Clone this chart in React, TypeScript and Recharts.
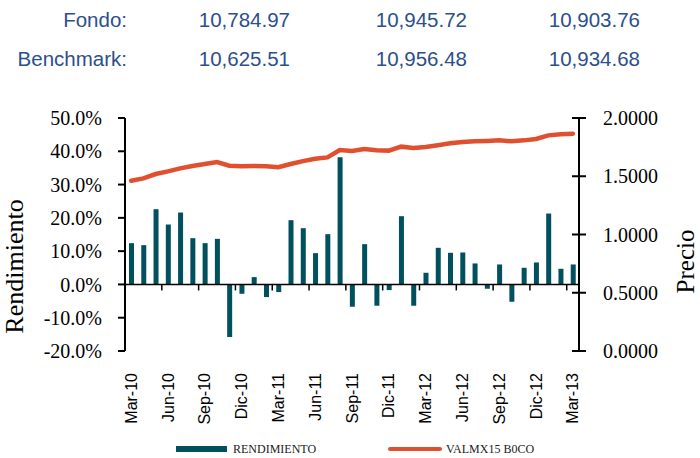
import React from 'react';
import { ComposedChart, Bar, Line, XAxis, YAxis, ReferenceLine } from 'recharts';

const months = [
  'Mar-10', 'Abr-10', 'May-10', 'Jun-10', 'Jul-10', 'Ago-10', 'Sep-10', 'Oct-10', 'Nov-10', 'Dic-10',
  'Ene-11', 'Feb-11', 'Mar-11', 'Abr-11', 'May-11', 'Jun-11', 'Jul-11', 'Ago-11', 'Sep-11', 'Oct-11',
  'Nov-11', 'Dic-11', 'Ene-12', 'Feb-12', 'Mar-12', 'Abr-12', 'May-12', 'Jun-12', 'Jul-12', 'Ago-12',
  'Sep-12', 'Oct-12', 'Nov-12', 'Dic-12', 'Ene-13', 'Feb-13', 'Mar-13',
];

// rendimiento en %
const rendimiento = [
  12.4, 11.8, 22.6, 18.0, 21.6, 13.9, 12.4, 13.7, -15.8, -2.8,
  2.2, -3.8, -2.3, 19.3, 16.9, 9.4, 15.1, 38.2, -6.7, 12.1,
  -6.4, -1.7, 20.5, -6.4, 3.5, 11.0, 9.5, 9.6, 6.3, -1.3,
  6.0, -5.2, 5.0, 6.6, 21.3, 4.7, 6.0,
];

const precio = [
  1.462, 1.482, 1.519, 1.542, 1.568, 1.588, 1.605, 1.622, 1.591, 1.585,
  1.588, 1.585, 1.577, 1.605, 1.63, 1.65, 1.662, 1.725, 1.717, 1.734,
  1.723, 1.72, 1.754, 1.742, 1.751, 1.766, 1.783, 1.793, 1.8, 1.803,
  1.808, 1.8, 1.808, 1.82, 1.851, 1.86, 1.865,
];

const leftTicks = [-20, -10, 0, 10, 20, 30, 40, 50];
const rightTicks = [0, 0.5, 1, 1.5, 2];

const summaryRows = [
  { name: 'Fondo:', values: ['10,784.97', '10,945.72', '10,903.76'] },
  { name: 'Benchmark:', values: ['10,625.51', '10,956.48', '10,934.68'] },
];

const data = months.map((m, i) => ({ mes: m, rendimiento: rendimiento[i], precio: precio[i] }));

const BAR_COLOR = '#00505E';
const LINE_COLOR = '#E0502F';
const TEXT_BLUE = '#2D4F8B';
const SERIF = '"Liberation Serif", "Times New Roman", serif';
const SANS = '"Liberation Sans", Arial, sans-serif';

const RIGHT_TICK_SIZE = 7;
const RIGHT_TICK_MARGIN = 17;

const XTick = ({ x, y, payload }: any) => (
  <text
    x={x}
    y={y}
    transform={`rotate(-90 ${x} ${y})`}
    dy="0.35em"
    textAnchor="end"
    fontFamily={SANS}
    fontSize={16}
    fill="#000"
  >
    {payload.value}
  </text>
);

const RightTick = ({ x, y, payload }: any) => {
  const ax = x - RIGHT_TICK_MARGIN - RIGHT_TICK_SIZE;
  return (
    <g>
      <line x1={ax - 7} x2={ax + 7} y1={y} y2={y} stroke="#000" strokeWidth={2} />
      <text x={x} y={y} dy="0.35em" textAnchor="start" fontFamily={SERIF} fontSize={20} fill="#000">
        {Number(payload.value).toFixed(4)}
      </text>
    </g>
  );
};

// small tick marks on the zero line, every 3 months
const ZeroTicks = ({ viewBox }: any) => {
  if (!viewBox) return null;
  const { x, y, width } = viewBox;
  const step = width / months.length;
  const marks = [];
  for (let k = 3; k < months.length; k += 3) {
    marks.push(<line key={k} x1={x + step * k} x2={x + step * k} y1={y} y2={y + 6} stroke="#000" strokeWidth={1.5} />);
  }
  return <g>{marks}</g>;
};

const LeftLabel = ({ viewBox }: any) => {
  const cx = viewBox.x + 14;
  const cy = viewBox.y + viewBox.height / 2 + 32;
  return (
    <text x={cx} y={cy} transform={`rotate(-90 ${cx} ${cy})`} dy="0.35em" textAnchor="middle" fontFamily={SERIF} fontSize={26} fill="#000">
      Rendimiento
    </text>
  );
};

const RightLabel = ({ viewBox }: any) => {
  const cx = viewBox.x + 106;
  const cy = viewBox.y + viewBox.height / 2 + 27;
  return (
    <text x={cx} y={cy} transform={`rotate(-90 ${cx} ${cy})`} dy="0.35em" textAnchor="middle" fontFamily={SERIF} fontSize={25} fill="#000">
      Precio
    </text>
  );
};

const valueRight = [290, 467, 640];

export default function App() {
  return (
    <div style={{ position: 'absolute', left: 0, top: 0, width: 700, height: 458, background: '#fff' }}>
      {summaryRows.map((row, r) => (
        <div key={row.name} style={{ position: 'absolute', top: 8 + r * 39, left: 0, width: 700, height: 24, fontFamily: SANS, fontSize: 20.5, color: TEXT_BLUE }}>
          <span style={{ position: 'absolute', right: 700 - 127 }}>{row.name}</span>
          {row.values.map((v, i) => (
            <span key={i} style={{ position: 'absolute', right: 700 - valueRight[i] }}>{v}</span>
          ))}
        </div>
      ))}

      <div style={{ position: 'absolute', left: 0, top: 0 }}>
        <ComposedChart width={700} height={458} data={data} margin={{ top: 118, right: 0, left: 0, bottom: 0 }}>
          <XAxis
            dataKey="mes"
            interval={2}
            axisLine={false}
            tickLine={false}
            tickSize={0}
            tickMargin={22}
            height={107}
            tick={<XTick />}
          />
          <YAxis
            yAxisId="left"
            orientation="left"
            width={125}
            domain={[-20, 50]}
            ticks={leftTicks}
            tickFormatter={(v: number) => `${v.toFixed(1)}%`}
            axisLine={{ stroke: '#000', strokeWidth: 2 }}
            tickLine={{ stroke: '#000', strokeWidth: 2 }}
            tickSize={7}
            tickMargin={16}
            tick={{ fontFamily: SERIF, fontSize: 20, fill: '#000' }}
            label={<LeftLabel />}
          />
          <YAxis
            yAxisId="right"
            orientation="right"
            width={121}
            domain={[0, 2]}
            ticks={rightTicks}
            axisLine={{ stroke: '#000', strokeWidth: 2 }}
            tickLine={false}
            tickSize={RIGHT_TICK_SIZE}
            tickMargin={RIGHT_TICK_MARGIN}
            tick={<RightTick />}
            label={<RightLabel />}
          />
          <Bar yAxisId="left" dataKey="rendimiento" fill={BAR_COLOR} barSize={5} isAnimationActive={false} />
          <ReferenceLine yAxisId="left" y={0} stroke="#000" strokeWidth={1.5} label={<ZeroTicks />} />
          <Line
            yAxisId="right"
            dataKey="precio"
            type="linear"
            stroke={LINE_COLOR}
            strokeWidth={4.5}
            strokeLinecap="round"
            dot={false}
            isAnimationActive={false}
          />
        </ComposedChart>
      </div>

      <div style={{ position: 'absolute', top: 441, left: 0, width: 700, height: 16, fontFamily: SERIF, fontSize: 12, color: '#222' }}>
        <div style={{ position: 'absolute', left: 176, top: 5, width: 51, height: 6, background: BAR_COLOR }} />
        <span style={{ position: 'absolute', left: 233, top: 1 }}>RENDIMIENTO</span>
        <div style={{ position: 'absolute', left: 388, top: 6, width: 54, height: 4, borderRadius: 2, background: LINE_COLOR }} />
        <span style={{ position: 'absolute', left: 446, top: 1 }}>VALMX15 B0CO</span>
      </div>
    </div>
  );
}
